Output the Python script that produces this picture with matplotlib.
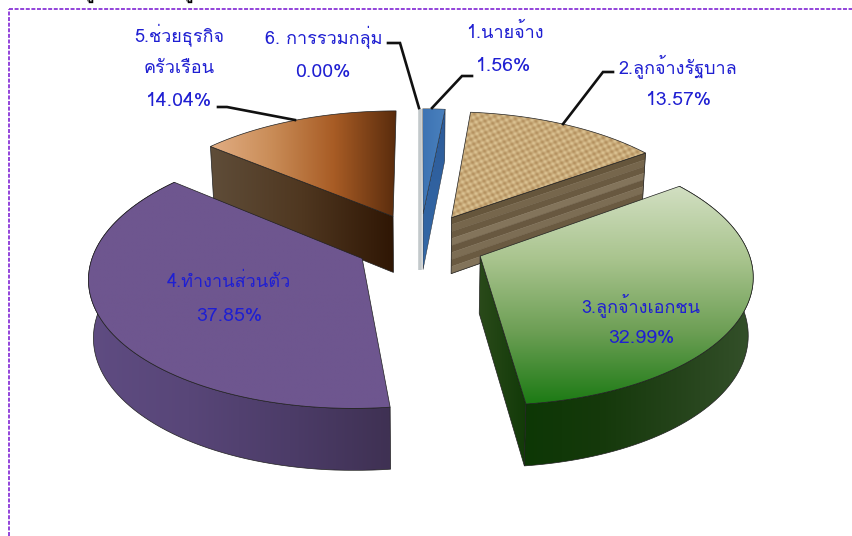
import numpy as np
import matplotlib
matplotlib.use('Agg')
import matplotlib.pyplot as plt
from matplotlib.colors import LinearSegmentedColormap
from matplotlib.patches import Polygon

# Data ###################################################################
names = ['1.นายจ้าง', '2.ลูกจ้างรัฐบาล', '3.ลูกจ้างเอกชน', '4.ทำงานส่วนตัว',
         '5.ช่วยธุรกิจ\nครัวเรือน', '6. การรวมกลุ่ม']
values = [1.56, 13.57, 32.99, 37.85, 14.04, 0.00]

# Plot parameters ########################################################
plt.rcParams['font.family'] = ['Loma', 'DejaVu Sans']
W, H = 852, 536
CX, CY = 420.0, 243.5  # pie centre on the page
SX, SY = 266.0, 126.0  # horizontal and vertical radius
PERSP = 0.131  # perspective strength
EXPLODE = 0.244  # how far every slice is pulled out
EDGE = '#202020'
TEXT = '#1f1fd2'

fig = plt.figure(figsize=(W / 100, H / 100), dpi=100)
ax = fig.add_axes([0, 0, 1, 1])
order = [0]


def top_pt(u, v):
    w = 1 + PERSP * v
    return CX + SX * u / w, CY - SY * v / w


def bottom_pt(u, v):
    x, y = top_pt(u, v)
    return CX + (x - CX) * 0.985, y + 57 - 4.5 * v


def slice_geometry(i):
    # angles run clockwise from 12 o'clock
    total = sum(values)
    a0 = 2 * np.pi * sum(values[:i]) / total
    a1 = 2 * np.pi * sum(values[:i + 1]) / total
    mid = (a0 + a1) / 2
    return a0, a1, EXPLODE * np.sin(mid), EXPLODE * np.cos(mid)


def arc(i, a_from, a_to, pt):
    a0, a1, eu, ev = slice_geometry(i)
    t = np.linspace(a_from, a_to, 80)
    return [pt(eu + np.sin(a), ev + np.cos(a)) for a in t]


def shaded(points, colors, along='x', lw=0.5):
    # polygon filled with a linear gradient
    points = np.array(points)
    order[0] += 1
    x0, y0 = points.min(axis=0)
    x1, y1 = points.max(axis=0)
    ramp = np.linspace(0, 1, 256)
    grad = ramp[None, :] if along == 'x' else ramp[:, None]
    cmap = LinearSegmentedColormap.from_list('g', colors)
    im = ax.imshow(grad, cmap=cmap, extent=[x0, x1, y1, y0], aspect='auto',
                   zorder=order[0], interpolation='bilinear')
    patch = Polygon(points, closed=True, fc='none', ec=EDGE, lw=lw, zorder=order[0])
    ax.add_patch(patch)
    im.set_clip_path(patch)


def top_face(i):
    a0, a1, eu, ev = slice_geometry(i)
    return [top_pt(eu, ev)] + arc(i, a0, a1, top_pt)


def cut_face(i, a):
    a0, a1, eu, ev = slice_geometry(i)
    u, v = eu + np.sin(a), ev + np.cos(a)
    return [top_pt(eu, ev), top_pt(u, v)], [bottom_pt(eu, ev), bottom_pt(u, v)]


def cut_poly(i, a):
    t, b = cut_face(i, a)
    return [t[0], t[1], b[1], b[0]]


def outer_poly(i):
    a0, a1, eu, ev = slice_geometry(i)
    return arc(i, a0, a1, top_pt) + arc(i, a1, a0, bottom_pt)


# 6. zero slice, only its thin grey face shows ###########################
a0, a1, eu, ev = slice_geometry(5)
t, b = cut_face(5, 0.0)
ax.plot([CX, CX], [t[1][1], b[0][1]], color='#c3c9cb', lw=2.6, solid_capstyle='butt', zorder=1)
order[0] = 2

# 1. blue ################################################################
a0, a1, eu, ev = slice_geometry(0)
shaded(cut_poly(0, a1), ['#2c5a98', '#356aa8'], 'y', lw=0.3)
shaded(top_face(0), ['#3d74b4', '#4a80bd'], 'x', lw=0.3)

# 5. brown ###############################################################
a0, a1, eu, ev = slice_geometry(4)
shaded(cut_poly(4, a0), ['#5f4d39', '#4f3720', '#2f1604'], 'x')
shaded(top_face(4), ['#e2ae84', '#c98c57', '#a85c25', '#5a2c0d'], 'x')

# 2. burlap with a striped face ##########################################
a0, a1, eu, ev = slice_geometry(1)
t, b = cut_face(1, a1)
bands = ['#66563c', '#76664c', '#6a5a41', '#83745b', '#685840', '#7c6d54', '#6a5a41', '#82735a']
order[0] += 1
for k, color in enumerate(bands):
    f0, f1 = k / len(bands), (k + 1) / len(bands)
    quad = [(t[0][0] + (b[0][0] - t[0][0]) * f0, t[0][1] + (b[0][1] - t[0][1]) * f0),
            (t[1][0] + (b[1][0] - t[1][0]) * f0, t[1][1] + (b[1][1] - t[1][1]) * f0),
            (t[1][0] + (b[1][0] - t[1][0]) * f1, t[1][1] + (b[1][1] - t[1][1]) * f1),
            (t[0][0] + (b[0][0] - t[0][0]) * f1, t[0][1] + (b[0][1] - t[0][1]) * f1)]
    ax.add_patch(Polygon(quad, closed=True, fc=color, ec=color, lw=0.3, zorder=order[0]))
ax.add_patch(Polygon(cut_poly(1, a1), closed=True, fc='none', ec=EDGE, lw=0.5, zorder=order[0]))

points = np.array(top_face(1))
x0, y0 = points.min(axis=0)
x1, y1 = points.max(axis=0)
xx, yy = np.meshgrid(np.arange(x0, x1, 0.5), np.arange(y0, y1, 0.5))
weave = np.sin(2 * np.pi * (xx + 0.3 * yy) / 8.5) * np.sin(2 * np.pi * (yy - 0.3 * xx) / 7.5)
light = np.array([222, 198, 150]) / 255
dark = np.array([178, 142, 92]) / 255
cloth = dark + (light - dark) * (0.5 + 0.5 * weave)[..., None]
order[0] += 1
im = ax.imshow(cloth, extent=[x0, x1, y1, y0], aspect='auto', zorder=order[0], interpolation='bilinear')
patch = Polygon(points, closed=True, fc='none', ec=EDGE, lw=0.5, zorder=order[0])
ax.add_patch(patch)
im.set_clip_path(patch)

# 4. purple ##############################################################
a0, a1, eu, ev = slice_geometry(3)
shaded(outer_poly(3), ['#5f4c82', '#584678', '#4c3c68', '#3f3153'], 'x')
shaded(top_face(3), ['#6e568f', '#6e568f'], 'x')

# 3. green ###############################################################
a0, a1, eu, ev = slice_geometry(2)
shaded(cut_poly(2, a1), ['#2a4a1a', '#123a08'], 'x')
shaded(outer_poly(2), ['#0d3705', '#15390b', '#24431a', '#34502a'], 'x')
shaded(top_face(2), ['#d2dfc2', '#a9c48e', '#6d9f55', '#1c7a14'], 'y')

# Leader lines ###########################################################
leaders = [[(388, 43), (400, 43), (419, 108)],
           [(472, 76), (462, 76), (432, 108)],
           [(613, 72), (603, 72), (563, 124)],
           [(218, 107), (227, 107), (295, 120)]]
for line in leaders:
    xs, ys = zip(*line)
    ax.plot(xs, ys, color='#111111', lw=1.9, zorder=order[0] + 1, solid_joinstyle='miter')

# Labels, anchored on their baselines ####################################
spots = [(505, 38), (678, 73), (641, 312), (229, 287), (179, 41), (324, 43)]
pct_spots = [(504, 71), (679, 105), (641, 343), (229, 321), (179, 106), (323, 77)]
for name, value, spot, pct in zip(names, values, spots, pct_spots):
    lines = name.split('\n')
    for k, line in enumerate(lines):
        ax.text(spot[0], spot[1] + k * 32, line, color=TEXT, fontsize=13, ha='center', va='baseline',
                zorder=order[0] + 2)
    ax.text(pct[0], pct[1], '%.2f%%' % value, color=TEXT, fontsize=14, ha='center', va='baseline',
            zorder=order[0] + 2)

# Frame and the clipped heading above it #################################
ax.plot([8.5, 8.5], [H, 8.5], color='#8a35d8', lw=1.3, ls=(0, (2.2, 0.9)), zorder=order[0] + 1)
ax.plot([8.5, W], [8.5, 8.5], color='#8a35d8', lw=1.3, ls=(0, (2.2, 0.9)), zorder=order[0] + 1)
for x in [90, 189]:
    ax.text(x, -1, 'รู', color='black', fontsize=13, fontweight='bold', ha='center', va='baseline',
            clip_on=True)

ax.set_xlim(0, W)
ax.set_ylim(H, 0)
ax.axis('off')
fig.savefig('out.png', dpi=100, facecolor='white')
